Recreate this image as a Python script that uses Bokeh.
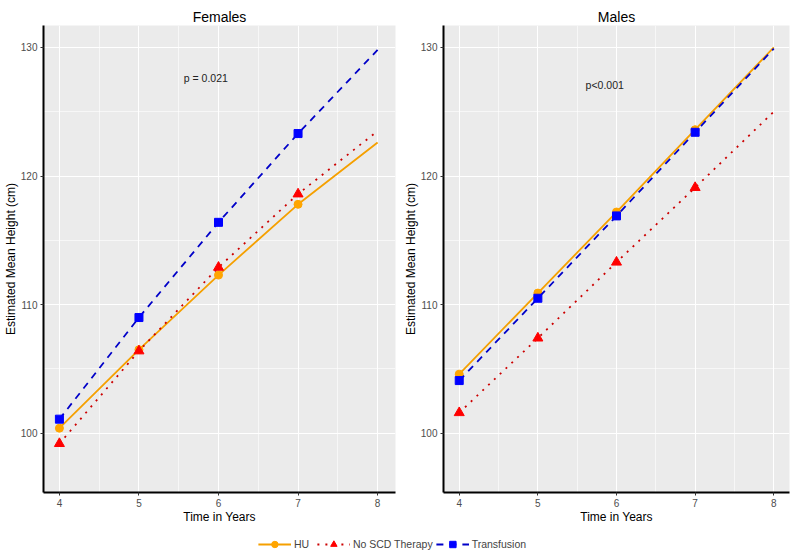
from bokeh.plotting import figure
from bokeh.layouts import column, row
from bokeh.models import (Range1d, FixedTicker, Label, Legend, LegendItem,
                          ColumnDataSource)
from bokeh.embed import file_html
from bokeh.resources import INLINE

# ---------------- data ----------------
years = [4, 5, 6, 7, 8]
marker_years = [4, 5, 6, 7]

fem_hu = [100.4, 106.5, 112.3, 117.8, 122.6]
fem_noscd = [99.2, 106.4, 112.9, 118.6, 123.5]
fem_trans = [101.1, 109.0, 116.4, 123.3, 129.8]

male_hu = [104.6, 110.9, 117.2, 123.6, 130.0]
male_noscd = [101.6, 107.4, 113.3, 119.1, 125.0]
male_trans = [104.1, 110.5, 116.9, 123.4, 129.9]

series_names = ["HU", "No SCD Therapy", "Transfusion"]
x_ticks = [4, 5, 6, 7, 8]
x_minor = [4.5, 5.5, 6.5, 7.5]
y_ticks = [100, 110, 120, 130]
y_minor = [105, 115, 125]

panel_titles = ["Females", "Males"]
p_labels = ["p = 0.021", "p<0.001"]
p_pos_x = [5.84, 5.85]
p_pos_y = [127.6, 127.1]

# ---------------- styles ----------------
FONT = "Liberation Sans"
styles = {
    "HU": dict(line="#F5A000", mark="#FFA500", dash="solid", marker="circle", size=8),
    "No SCD Therapy": dict(line="#CC0000", mark="#FF0000", dash="2 6", marker="triangle", size=10),
    "Transfusion": dict(line="#0000C8", mark="#0000FF", dash="7 6", marker="square", size=8),
}


def make_panel(title, data, ptext, px, py, left_border, frame_w, x_end):
    p = figure(frame_width=frame_w, frame_height=467,
               x_range=Range1d(3.8, x_end), y_range=Range1d(95.4, 131.7),
               output_backend="svg", toolbar_location=None,
               min_border_left=left_border, min_border_right=3,
               min_border_top=25, min_border_bottom=36,
               background_fill_color="#EBEBEB", border_fill_color="white",
               outline_line_color=None, title=title)
    p.title.align = "center"
    p.title.text_font = FONT
    p.title.text_font_size = "14px"
    p.title.text_font_style = "normal"
    p.title.text_color = "black"
    p.title.standoff = 2

    p.xaxis.ticker = FixedTicker(ticks=x_ticks, minor_ticks=x_minor)
    p.yaxis.ticker = FixedTicker(ticks=y_ticks, minor_ticks=y_minor)
    p.xgrid.ticker = p.xaxis.ticker
    p.ygrid.ticker = p.yaxis.ticker
    for g in (p.xgrid, p.ygrid):
        g.grid_line_color = "white"
        g.grid_line_width = 1.1
        g.minor_grid_line_color = "white"
        g.minor_grid_line_width = 0.6

    p.xaxis.axis_label = "Time in Years"
    p.yaxis.axis_label = "Estimated Mean Height (cm)"
    for ax in (p.xaxis[0], p.yaxis[0]):
        ax.axis_line_color = "black"
        ax.axis_line_width = 2
        ax.major_tick_line_color = "#333333"
        ax.major_tick_out = 3
        ax.major_tick_in = 0
        ax.minor_tick_line_color = None
        ax.major_label_text_font = FONT
        ax.major_label_text_font_size = "10px"
        ax.major_label_text_color = "#4D4D4D"
        ax.major_label_standoff = 2
        ax.axis_label_text_font = FONT
        ax.axis_label_text_font_size = "12px"
        ax.axis_label_text_font_style = "normal"
        ax.axis_label_text_color = "black"
        ax.axis_label_standoff = 0

    for name, vals in zip(series_names, data):
        st = styles[name]
        p.line(years, vals, line_color=st["line"], line_width=1.8,
               line_dash=st["dash"])
        p.scatter(marker_years, vals[:4], marker=st["marker"], size=st["size"],
                  fill_color=st["mark"], line_color=st["mark"])

    p.add_layout(Label(x=px, y=py, text=ptext, text_align="center",
                       text_baseline="middle", text_font=FONT,
                       text_font_size="10.5px", text_color="#222222"))
    return p


p1 = make_panel(panel_titles[0], [fem_hu, fem_noscd, fem_trans], p_labels[0],
                p_pos_x[0], p_pos_y[0], 35, 352, 8.225)
p2 = make_panel(panel_titles[1], [male_hu, male_noscd, male_trans], p_labels[1],
                p_pos_x[1], p_pos_y[1], 45, 346, 8.2)

# ---------------- legend strip ----------------
leg = figure(width=784, height=24, output_backend="svg", toolbar_location=None,
             x_range=Range1d(0, 1), y_range=Range1d(0, 1),
             min_border=0, outline_line_color=None)
leg.axis.visible = False
leg.grid.visible = False
items = []
for name in series_names:
    st = styles[name]
    src = ColumnDataSource(dict(x=[-10, -9], y=[-10, -9]))
    r1 = leg.line("x", "y", source=src, line_color=st["line"], line_width=1.8,
                  line_dash=st["dash"])
    r2 = leg.scatter("x", "y", source=src, marker=st["marker"], size=st["size"] - 1,
                     fill_color=st["mark"], line_color=st["mark"])
    items.append(LegendItem(label=name, renderers=[r1, r2]))
legend = Legend(items=items, orientation="horizontal", location="bottom_center",
                border_line_color=None, background_fill_alpha=0,
                label_text_font=FONT, label_text_font_size="10.5px",
                glyph_width=33, glyph_height=16, label_standoff=3,
                spacing=3, padding=0, margin=0, label_height=16)
leg.add_layout(legend, "center")

layout = column(row(p1, p2, spacing=0), leg, spacing=0)
open("out.html", "w").write(file_html(layout, INLINE))
